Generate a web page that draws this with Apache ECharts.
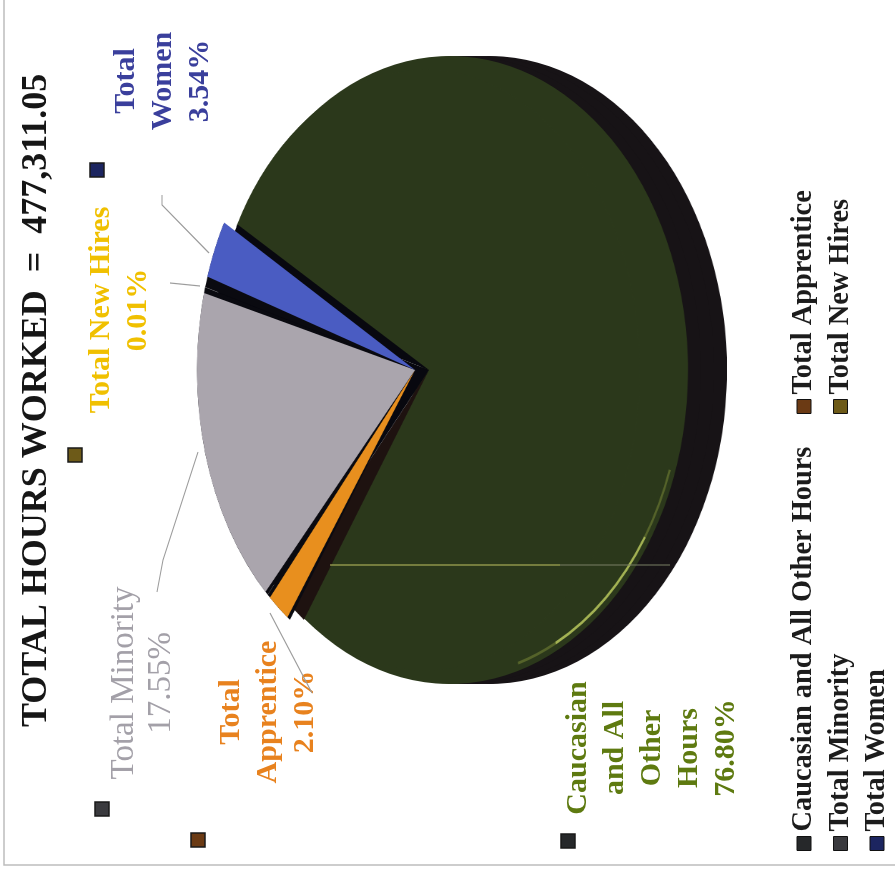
<!DOCTYPE html>
<html><head><meta charset="utf-8">
<style>
html,body{margin:0;padding:0;width:895px;height:875px;overflow:hidden;background:#fff}
#wrap{position:absolute;left:0;top:0;width:875px;height:895px;transform-origin:0 0;transform:translate(0,875px) rotate(-90deg)}
.layer{position:absolute;left:0;top:0;width:875px;transform-origin:0 0}
</style>
<script src="https://cdn.jsdelivr.net/npm/echarts@6/dist/echarts.min.js"></script>
</head><body>
<div id="wrap">
<div id="face" class="layer"></div>
<div id="wedges" class="layer"></div>
<div id="text" class="layer"></div>
</div>
<script>
const chartTitle = 'TOTAL HOURS WORKED  =  477,311.05';
const categories = ['Total Apprentice','Total Minority','Total New Hires','Total Women','Caucasian and All Other Hours'];
const values = [2.10,17.55,0.01,3.54,76.80];
const sliceColors = ['#e88f1e','#aaa5ad','#f2c200','#4a5cc2','#2b381b'];
const labelColors = ['#e8821e','#a3a0a8','#f0c000','#3a3f9c','#5e7a10'];
const labelLines = [['Total','Apprentice'],['Total Minority'],['Total New Hires'],['Total','Women'],['Caucasian','and All','Other','Hours']];
const legendCol1 = ['Caucasian and All Other Hours','Total Minority','Total Women'];
const legendCol2 = ['Total Apprentice','Total New Hires'];
const keyColors = ['#6b3a14','#3a3a3e','#6d5a18','#1c2560','#26282a'];

const FONT = '"Liberation Serif"';
const SERIES_GREEN = categories.length - 1;
// reference page is turned a quarter turn: map page (x,y) to the upright frame
const P = (x,y)=>[875-y,x];

function layer(id,s,h){
  const el=document.getElementById(id);
  el.style.height=(h||895/s)+'px';
  el.style.transform='scaleY('+s+')';
  return echarts.init(el,null,{renderer:'canvas'});
}
function slices(colorOf){
  return categories.map((n,i)=>({name:n,value:values[i],itemStyle:{color:colorOf(i)}}));
}
const base={type:'pie',silent:true,animation:false,label:{show:false},labelLine:{show:false},emphasis:{disabled:true}};

// Large slice: its ellipse sits a little further down the page than the small slices' apex
const S1=0.758, R1=314;
const at1=(x,y)=>{const p=P(x,y);return [p[0],p[1]/S1];};
const face=layer('face',S1);
const wall=[39,26,13].map(d=>Object.assign({},base,{center:at1(450+d,370),radius:R1,startAngle:142,
  data:slices(i=>i===SERIES_GREEN?'#171316':'rgba(0,0,0,0)')}));
face.setOption({series:[...wall,
  Object.assign({},base,{center:at1(450,370),radius:R1,startAngle:142,data:slices(i=>i===SERIES_GREEN?sliceColors[i]:'rgba(0,0,0,0)')}),
  Object.assign({},base,{center:at1(450,370),radius:[R1*0.972,R1*0.981],startAngle:251,
    data:[{value:14,itemStyle:{color:'#55632a'}},{value:30,itemStyle:{color:'#a3b253'}},{value:10,itemStyle:{color:'#55632a'}},{value:306,itemStyle:{color:'rgba(0,0,0,0)'}}]})
]});

// Small slices
const S2=0.715, R2=305, START2=145;
const at2=(x,y)=>{const p=P(x,y);return [p[0],p[1]/S2];};
const wedges=layer('wedges',S2);
wedges.setOption({series:[
  Object.assign({},base,{center:at2(425,370),radius:R2*0.985,startAngle:START2,data:slices(i=>i===SERIES_GREEN?sliceColors[i]:'rgba(0,0,0,0)')}),
  Object.assign({},base,{center:at2(429,370),radius:R2,startAngle:START2,data:slices(i=>i===SERIES_GREEN?'rgba(0,0,0,0)':(i===0?'#1e1210':'#08080f'))}),
  Object.assign({},base,{center:at2(415,370),radius:R2,startAngle:START2,data:slices(i=>i===SERIES_GREEN?'rgba(0,0,0,0)':'#0a0a10')}),
  Object.assign({},base,{center:at2(415,370),radius:R2,startAngle:START2,padAngle:1.6,
    data:slices(i=>i===SERIES_GREEN?'rgba(0,0,0,0)':sliceColors[i])})
]});

// Text, keys and leader lines
const text=layer('text',1,960);
const idx=n=>categories.indexOf(n);
const pct=i=>values[i].toFixed(2)+'%';
const callouts=[
  {i:3,p:[163,81],size:30},
  {i:2,p:[120,310],size:30},
  {i:1,p:[143,683],size:33,weight:'normal'},
  {i:0,p:[268,712],size:30},
  {i:4,p:[652,748],size:30}
];
const keys=[[102,809,1],[198,840,0],[568,841,4],[75,455,2],[97,170,3]];
const leaders=[
  [[209,253],[162,205],[162,195]],
  [[200,286],[170,283]],
  [[198,452],[163,560],[157,592]],
  [[270,613],[312,693]]
];
const g=[];
callouts.forEach(c=>{
  const p=P(c.p[0],c.p[1]);
  g.push({type:'text',x:p[0],y:p[1],style:{text:labelLines[c.i].concat(pct(c.i)).join('\n'),
    font:(c.weight||'bold')+' '+c.size+'px '+FONT,fill:labelColors[c.i],align:'center',verticalAlign:'middle',lineHeight:37}});
});
keys.forEach(k=>{
  const p=P(k[0],k[1]);
  g.push({type:'rect',shape:{x:p[0]-7,y:p[1]-7,width:14,height:14},style:{fill:keyColors[k[2]],stroke:'#1a1a1a',lineWidth:1.5}});
});
leaders.forEach(l=>g.push({type:'polyline',shape:{points:l.map(q=>P(q[0],q[1]))},style:{stroke:'#9c9c9c',lineWidth:1.2,fill:null}}));
// scan marks of the source page
g.push({type:'line',shape:{x1:875-565,y1:330,x2:875-565,y2:560},style:{stroke:'rgba(165,170,85,0.6)',lineWidth:2}});
g.push({type:'line',shape:{x1:875-565,y1:560,x2:875-565,y2:670},style:{stroke:'rgba(120,125,100,0.5)',lineWidth:2}});
g.push({type:'polyline',shape:{points:[P(4,0),P(4,865),P(895,865)]},style:{stroke:'#bdbdbd',lineWidth:1.5,fill:null}});

const legendText={fontFamily:FONT,fontWeight:'bold',fontSize:28.4,color:'#1c1c1c'};
const legendItems=names=>names.map(n=>({name:n,icon:'rect',itemStyle:{color:keyColors[idx(n)],borderColor:'#111',borderWidth:1}}));
text.setOption({
  title:{text:chartTitle,left:143,top:14,textStyle:{fontFamily:FONT,fontWeight:'bold',fontSize:36,color:'#161616'}},
  legend:[
    {data:legendItems(legendCol1),orient:'vertical',left:19,top:785,itemWidth:14,itemHeight:14,itemGap:8.5,selectedMode:false,textStyle:legendText},
    {data:legendItems(legendCol2),orient:'vertical',left:456,top:785,itemWidth:14,itemHeight:14,itemGap:8.5,selectedMode:false,textStyle:legendText}
  ],
  series:[Object.assign({},base,{radius:0,data:slices(i=>keyColors[i])})],
  graphic:g
});
</script>
</body></html>
